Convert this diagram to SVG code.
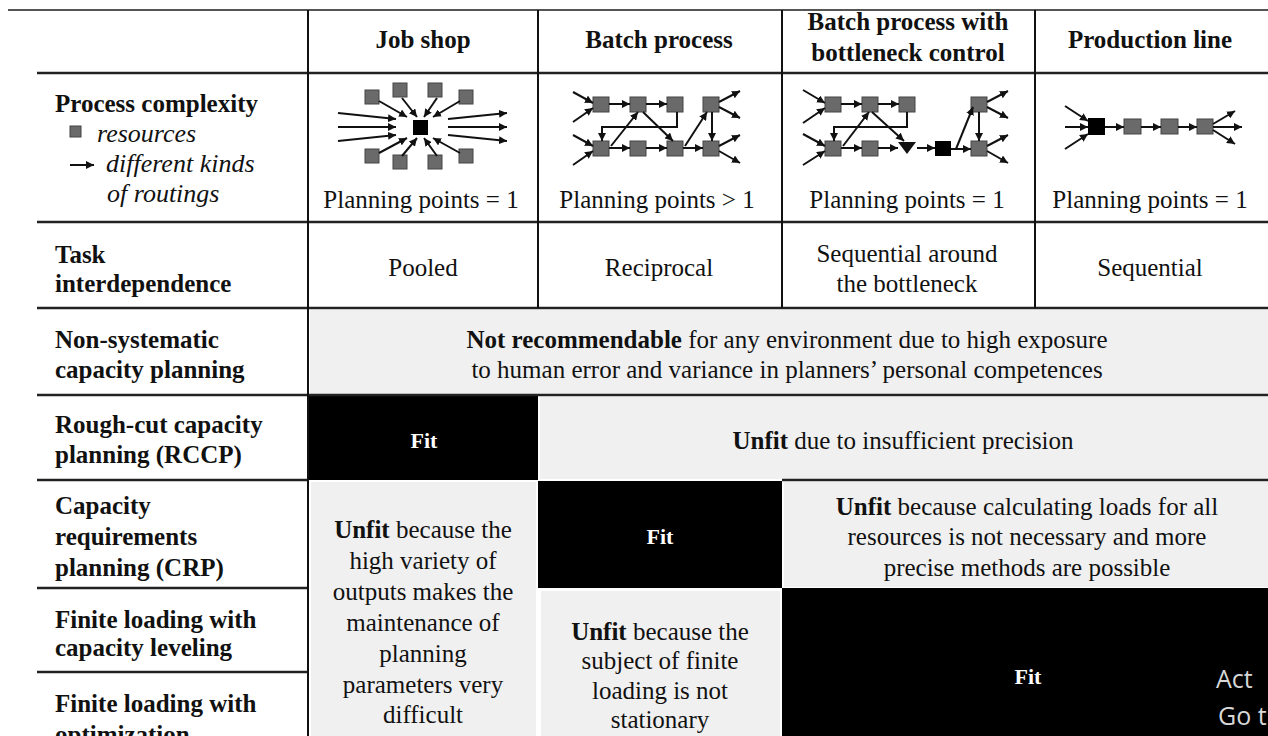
<svg xmlns="http://www.w3.org/2000/svg" width="1268" height="736" viewBox="0 0 1268 736">
<defs>
<marker id="ah" markerUnits="userSpaceOnUse" markerWidth="9" markerHeight="8" refX="8" refY="4" orient="auto"><path d="M0,0 L8,4 L0,8 z" fill="#111"/></marker>
<style>
text{font-family:"Liberation Serif","Times New Roman",serif;font-size:25px;fill:#111}
.b{font-weight:bold}
.i{font-style:italic;font-size:26px}
.c{text-anchor:middle}
.fit{font-weight:bold;fill:#fff;font-size:22px;text-anchor:middle}
.hl{stroke:#222;stroke-width:2.5;fill:none}
.vl{stroke:#111;stroke-width:2;fill:none}
.res{fill:#6a6a6a;stroke:#444;stroke-width:1}
.blk{fill:#000}
.gc{fill:#f0f0f0}
.bc{fill:#000}
.ar{stroke:#111;stroke-width:2;fill:none;marker-end:url(#ah)}
.ln{stroke:#111;stroke-width:2;fill:none}
.wm{font-family:"Open Sans","Noto Sans",sans-serif;fill:#d8d8d8}
</style>
</defs>
<rect width="1268" height="736" fill="#fff"/>

<!-- cell fills -->
<g id="cells">
<rect class="gc" x="310" y="310" width="958" height="84"/>
<rect class="bc" x="309" y="396" width="229" height="84"/>
<rect class="gc" x="540" y="397" width="728" height="82"/>
<rect class="gc" x="311" y="482" width="225" height="254"/>
<rect class="bc" x="538" y="481" width="244" height="107"/>
<rect class="gc" x="784" y="482" width="484" height="105"/>
<rect class="gc" x="541" y="591" width="239" height="145"/>
<rect class="bc" x="782" y="588" width="486" height="148"/>
</g>

<!-- grid lines -->
<g id="grid">
<line x1="8" y1="10" x2="1268" y2="10" stroke="#555" stroke-width="2"/>
<line class="hl" x1="37" y1="73" x2="1268" y2="73"/>
<line class="hl" x1="37" y1="222" x2="1268" y2="222"/>
<line class="hl" x1="37" y1="308" x2="1268" y2="308"/>
<line class="hl" x1="37" y1="395" x2="1268" y2="395"/>
<line class="hl" x1="37" y1="480" x2="308" y2="480"/>
<line class="hl" x1="782" y1="480" x2="1268" y2="480"/>
<line class="hl" x1="37" y1="588" x2="308" y2="588"/>
<line class="hl" x1="37" y1="672" x2="308" y2="672"/>
<line class="vl" x1="308" y1="10" x2="308" y2="736"/>
<line class="vl" x1="538" y1="10" x2="538" y2="308"/>
<line class="vl" x1="782" y1="10" x2="782" y2="308"/>
<line class="vl" x1="1035" y1="10" x2="1035" y2="308"/>
</g>

<!-- header -->
<g id="header">
<text class="b c" x="423" y="48">Job shop</text>
<text class="b c" x="659" y="48">Batch process</text>
<text class="b c" x="908" y="30">Batch process with</text>
<text class="b c" x="908" y="61">bottleneck control</text>
<text class="b c" x="1150" y="48">Production line</text>
</g>

<!-- row labels -->
<g id="labels">
<text class="b" x="55" y="112">Process complexity</text>
<rect class="res" x="70" y="126" width="11" height="11"/>
<text class="i" x="97" y="142">resources</text>
<line class="ar" x1="70" y1="165" x2="94" y2="165"/>
<text class="i" x="106" y="172">different kinds</text>
<text class="i" x="107" y="202">of routings</text>
<text class="b" x="55" y="263">Task</text>
<text class="b" x="55" y="292">interdependence</text>
<text class="b" x="55" y="348">Non-systematic</text>
<text class="b" x="55" y="378">capacity planning</text>
<text class="b" x="55" y="433">Rough-cut capacity</text>
<text class="b" x="55" y="463">planning (RCCP)</text>
<text class="b" x="55" y="514">Capacity</text>
<text class="b" x="55" y="545">requirements</text>
<text class="b" x="55" y="576">planning (CRP)</text>
<text class="b" x="55" y="628">Finite loading with</text>
<text class="b" x="55" y="656">capacity leveling</text>
<text class="b" x="55" y="712">Finite loading with</text>
<text class="b" x="55" y="743">optimization</text>
</g>

<!-- process complexity diagrams -->
<g id="jobshop">
<rect class="blk" x="413" y="120" width="15" height="15"/>
<rect class="res" x="365" y="90" width="14" height="14"/>
<rect class="res" x="393" y="83" width="14" height="14"/>
<rect class="res" x="428" y="83" width="14" height="14"/>
<rect class="res" x="459" y="90" width="14" height="14"/>
<rect class="res" x="365" y="149" width="14" height="14"/>
<rect class="res" x="393" y="155" width="14" height="14"/>
<rect class="res" x="428" y="155" width="14" height="14"/>
<rect class="res" x="459" y="149" width="14" height="14"/>
</g>
<g id="batch">
<rect class="res" x="593" y="97" width="16" height="15"/>
<rect class="res" x="630" y="97" width="16" height="15"/>
<rect class="res" x="667" y="97" width="16" height="15"/>
<rect class="res" x="703" y="97" width="16" height="15"/>
<rect class="res" x="593" y="141" width="16" height="15"/>
<rect class="res" x="630" y="141" width="16" height="15"/>
<rect class="res" x="667" y="141" width="16" height="15"/>
<rect class="res" x="703" y="141" width="16" height="15"/>
</g>
<g id="bottleneck">
<rect class="res" x="825" y="97" width="16" height="15"/>
<rect class="res" x="862" y="97" width="16" height="15"/>
<rect class="res" x="899" y="97" width="16" height="15"/>
<rect class="res" x="971" y="97" width="16" height="15"/>
<rect class="res" x="825" y="141" width="16" height="15"/>
<rect class="res" x="862" y="141" width="16" height="15"/>
<path d="M898,142 L916,142 L907,154 z" fill="#111"/>
<rect class="blk" x="935" y="141" width="16" height="15"/>
<rect class="res" x="971" y="141" width="16" height="15"/>
</g>
<g id="prodline">
<rect class="blk" x="1088" y="118" width="17" height="17"/>
<rect class="res" x="1124" y="119" width="17" height="15"/>
<rect class="res" x="1161" y="119" width="17" height="15"/>
<rect class="res" x="1197" y="119" width="16" height="15"/>
</g>

<g id="connectors">
<!-- job shop -->
<line class="ar" x1="338" y1="113" x2="396" y2="119"/>
<line class="ar" x1="338" y1="127" x2="396" y2="127"/>
<line class="ar" x1="338" y1="141" x2="396" y2="135"/>
<line class="ar" x1="448" y1="119" x2="507" y2="113"/>
<line class="ar" x1="448" y1="127" x2="507" y2="127"/>
<line class="ar" x1="448" y1="135" x2="507" y2="141"/>
<line class="ar" x1="379" y1="101" x2="407" y2="117"/>
<line class="ar" x1="402" y1="98" x2="417" y2="117"/>
<line class="ar" x1="437" y1="98" x2="424" y2="117"/>
<line class="ar" x1="460" y1="101" x2="433" y2="117"/>
<line class="ar" x1="379" y1="153" x2="407" y2="138"/>
<line class="ar" x1="402" y1="156" x2="417" y2="138"/>
<line class="ar" x1="437" y1="156" x2="424" y2="138"/>
<line class="ar" x1="460" y1="153" x2="433" y2="138"/>
<!-- batch -->
<line class="ar" x1="573" y1="92" x2="593" y2="103"/>
<line class="ar" x1="573" y1="122" x2="593" y2="108"/>
<line class="ar" x1="573" y1="135" x2="593" y2="146"/>
<line class="ar" x1="573" y1="165" x2="593" y2="151"/>
<line class="ar" x1="609" y1="104" x2="630" y2="104"/>
<line class="ar" x1="646" y1="104" x2="667" y2="104"/>
<polyline class="ar" points="677,112 677,127 602,127 602,141"/>
<line class="ar" x1="611" y1="146" x2="638" y2="112"/>
<line class="ar" x1="643" y1="112" x2="673" y2="141"/>
<line class="ar" x1="609" y1="148" x2="630" y2="148"/>
<line class="ar" x1="646" y1="148" x2="667" y2="148"/>
<line class="ar" x1="683" y1="148" x2="703" y2="148"/>
<line class="ar" x1="685" y1="146" x2="707" y2="112"/>
<line class="ar" x1="712" y1="112" x2="712" y2="141"/>
<line class="ar" x1="719" y1="102" x2="740" y2="91"/>
<line class="ar" x1="719" y1="107" x2="740" y2="118"/>
<line class="ar" x1="719" y1="146" x2="740" y2="135"/>
<line class="ar" x1="719" y1="151" x2="740" y2="163"/>
<!-- bottleneck -->
<line class="ar" x1="803" y1="90" x2="825" y2="103"/>
<line class="ar" x1="803" y1="123" x2="825" y2="108"/>
<line class="ar" x1="803" y1="134" x2="825" y2="146"/>
<line class="ar" x1="803" y1="165" x2="825" y2="151"/>
<line class="ar" x1="841" y1="104" x2="862" y2="104"/>
<line class="ar" x1="878" y1="104" x2="899" y2="104"/>
<polyline class="ar" points="907,112 907,127 834,127 834,141"/>
<line class="ar" x1="843" y1="146" x2="869" y2="112"/>
<line class="ar" x1="872" y1="112" x2="904" y2="141"/>
<line class="ar" x1="841" y1="148" x2="862" y2="148"/>
<line class="ar" x1="878" y1="148" x2="898" y2="148"/>
<line class="ar" x1="917" y1="148" x2="935" y2="148"/>
<line class="ln" x1="951" y1="149" x2="956" y2="149"/>
<line class="ar" x1="956" y1="149" x2="971" y2="149"/>
<line class="ar" x1="956" y1="149" x2="973" y2="107"/>
<line class="ar" x1="979" y1="112" x2="979" y2="141"/>
<line class="ar" x1="987" y1="102" x2="1008" y2="91"/>
<line class="ar" x1="987" y1="107" x2="1008" y2="118"/>
<line class="ar" x1="987" y1="146" x2="1008" y2="135"/>
<line class="ar" x1="987" y1="151" x2="1008" y2="163"/>
<!-- production line -->
<line class="ar" x1="1065" y1="106" x2="1088" y2="121"/>
<line class="ar" x1="1065" y1="127" x2="1088" y2="127"/>
<line class="ar" x1="1065" y1="149" x2="1088" y2="134"/>
<line class="ar" x1="1105" y1="127" x2="1124" y2="127"/>
<line class="ar" x1="1141" y1="127" x2="1161" y2="127"/>
<line class="ar" x1="1178" y1="127" x2="1197" y2="127"/>
<line class="ar" x1="1213" y1="124" x2="1235" y2="111"/>
<line class="ar" x1="1213" y1="127" x2="1242" y2="127"/>
<line class="ar" x1="1213" y1="130" x2="1235" y2="144"/>
</g>

<!-- body texts -->
<g id="body">
<text class="c" x="421" y="208">Planning points = 1</text>
<text class="c" x="657" y="208">Planning points &gt; 1</text>
<text class="c" x="907" y="208">Planning points = 1</text>
<text class="c" x="1150" y="208">Planning points = 1</text>
<text class="c" x="423" y="276">Pooled</text>
<text class="c" x="659" y="276">Reciprocal</text>
<text class="c" x="907" y="262">Sequential around</text>
<text class="c" x="907" y="292">the bottleneck</text>
<text class="c" x="1150" y="276">Sequential</text>
<text class="c" x="787" y="348"><tspan class="b">Not recommendable</tspan> for any environment due to high exposure</text>
<text class="c" x="787" y="378">to human error and variance in planners’ personal competences</text>
<text class="fit" x="424" y="448">Fit</text>
<text class="c" x="903" y="449"><tspan class="b">Unfit</tspan> due to insufficient precision</text>
<text class="fit" x="660" y="544">Fit</text>
<text class="c" x="1027" y="515"><tspan class="b">Unfit</tspan> because calculating loads for all</text>
<text class="c" x="1027" y="545">resources is not necessary and more</text>
<text class="c" x="1027" y="576">precise methods are possible</text>
<text class="c" x="423" y="538"><tspan class="b">Unfit</tspan> because the</text>
<text class="c" x="423" y="569">high variety of</text>
<text class="c" x="423" y="600">outputs makes the</text>
<text class="c" x="423" y="631">maintenance of</text>
<text class="c" x="423" y="662">planning</text>
<text class="c" x="423" y="693">parameters very</text>
<text class="c" x="423" y="723">difficult</text>
<text class="c" x="660" y="640"><tspan class="b">Unfit</tspan> because the</text>
<text class="c" x="660" y="669">subject of finite</text>
<text class="c" x="660" y="699">loading is not</text>
<text class="c" x="660" y="728">stationary</text>
<text class="fit" x="1028" y="684">Fit</text>
<text class="wm" x="1216" y="688" font-size="34">Act</text>
<text class="wm" x="1218" y="725" font-size="21">Go t</text>
</g>
</svg>
